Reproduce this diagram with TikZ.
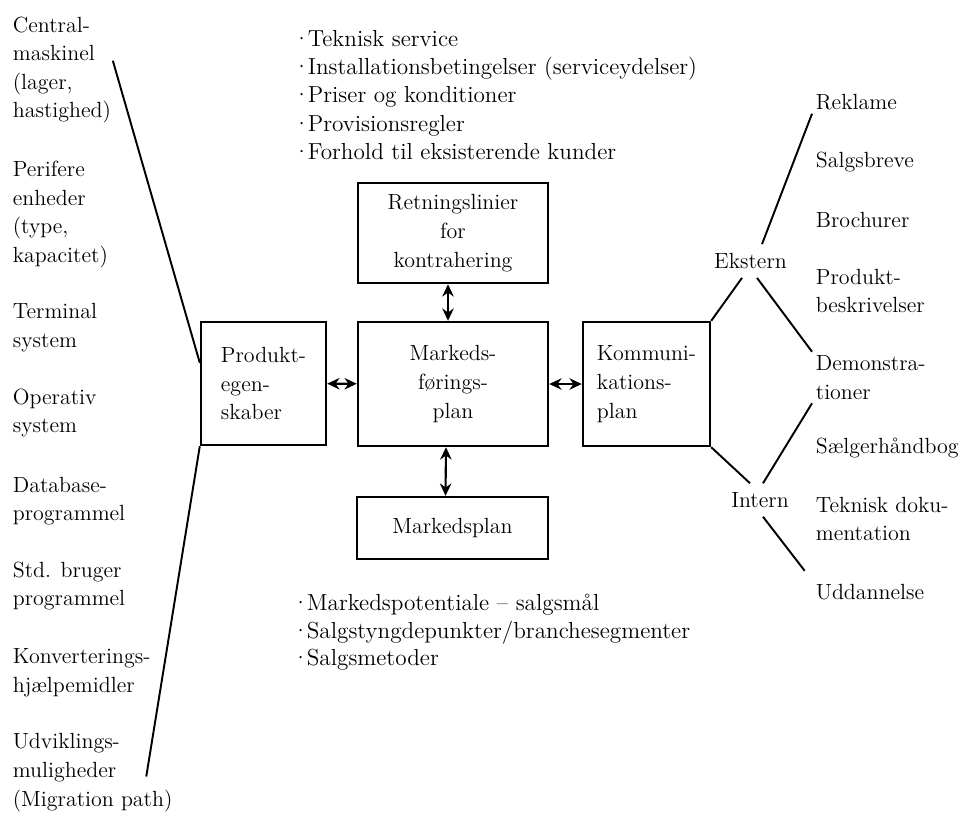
\documentclass[tikz,border=0pt]{standalone}
\usepackage{tikz}
\usetikzlibrary{arrows.meta,calc}

\newcommand{\pkt}{\makebox[0.3cm][l]{\textperiodcentered}}

\begin{document}
\begin{tikzpicture}[
    x=0.02cm, y=-0.02cm,
    font=\fontsize{12.5}{16.3}\selectfont,
    plan/.style={draw, line width=1.4pt, align=center, inner sep=2pt},
    lbl/.style={anchor=west, align=left, inner sep=2pt},
    liste/.style={lbl, font=\fontsize{13.2}{16.2}\selectfont},
    grp/.style={inner xsep=2pt, inner ysep=5pt},
    arr/.style={{Stealth[length=7pt,width=6.5pt]}-{Stealth[length=7pt,width=6.5pt]}, line width=1.2pt},
    lin/.style={line width=1.1pt}
]
\useasboundingbox (0,0) rectangle (972,812);

% planer
\node[plan, minimum width=3.8cm, minimum height=2cm] (ret) at (453,233) {Retningslinier\\for\\kontrahering};
\node[plan, minimum width=3.8cm, minimum height=2.48cm] (mfp) at (453,384) {Markeds-\\førings-\\plan};
\node[plan, minimum width=3.82cm, minimum height=1.24cm] (mp) at (452.5,528) {Markedsplan};
\node[plan, align=left, minimum width=2.5cm, minimum height=2.46cm] (prod) at (263.5,383.5) {Produkt-\\egen-\\skaber};
\node[plan, align=left, minimum width=2.54cm, minimum height=2.48cm] (kom) at (646.5,384) {Kommuni-\\kations-\\plan};

\draw[arr] (prod) -- (mfp);
\draw[arr] (mfp) -- (kom);
\draw[arr] ([xshift=-0.1cm]ret.south) -- ([xshift=-0.1cm]mfp.north);
\draw[arr] ([xshift=-0.14cm]mfp.south) -- ([xshift=-0.14cm]mp.north);

% produktegenskaber
\node[lbl] (cen) at (9,70) {Central-\\maskinel\\(lager,\\hastighed)};
\node[lbl] (per) at (9,214.5) {Perifere\\enheder\\(type,\\kapacitet)};
\node[lbl] (ter) at (9,327.5) {Terminal\\system};
\node[lbl] (opr) at (9,413) {Operativ\\system};
\node[lbl] (dbp) at (9,501) {Database-\\programmel};
\node[lbl] (std) at (9,586) {Std. bruger\\programmel};
\node[lbl] (kon) at (9,672.5) {Konverterings-\\hjælpemidler};
\node[lbl] (udv) at (9,772.5) {Udviklings-\\muligheder\\(Migration path)};

\draw[lin] ($(cen.north east)+(-2,48)$) -- (prod.162);
\draw[lin] (prod.south west) -- ($(udv.east)+(-30,4)$);

% lister
\node[liste] (krav) at (289,95) {\pkt Teknisk service\\\pkt Installationsbetingelser (serviceydelser)\\\pkt Priser og konditioner\\\pkt Provisionsregler\\\pkt Forhold til eksisterende kunder};
\node[liste, font=\fontsize{13.2}{15.6}\selectfont] (salg) at (288,632.5) {\pkt Markedspotentiale -- salgsmål\\\pkt Salgstyngdepunkter/branchesegmenter\\\pkt Salgsmetoder};

% kommunikation
\node[grp] (ekst) at (750.5,261) {Ekstern};
\node[grp] (int) at (760,500) {Intern};

\node[lbl] (rek) at (812,102) {Reklame};
\node[lbl] (sbr) at (812,162) {Salgsbreve};
\node[lbl] (bro) at (812,220) {Brochurer};
\node[lbl] (pbe) at (812,291) {Produkt-\\beskrivelser};
\node[lbl] (dem) at (812,377.5) {Demonstra-\\tioner};
\node[lbl] (shb) at (812,448) {Sælgerhåndbog};
\node[lbl] (tdo) at (812,519) {Teknisk doku-\\mentation};
\node[lbl] (udd) at (812,592) {Uddannelse};

\draw[lin] (kom.north east) -- ([xshift=-0.17cm]ekst.south);
\draw[lin] ([xshift=0.23cm]ekst.north) -- (rek.south west);
\draw[lin] ([xshift=0.13cm]ekst.south) -- (dem.north west);
\draw[lin] (kom.south east) -- ([xshift=-0.2cm]int.north);
\draw[lin] ([xshift=0.06cm]int.north) -- (dem.south west);
\draw[lin, shorten >=0.24cm] ([xshift=0.06cm]int.south) -- (udd.north west);
\end{tikzpicture}
\end{document}
